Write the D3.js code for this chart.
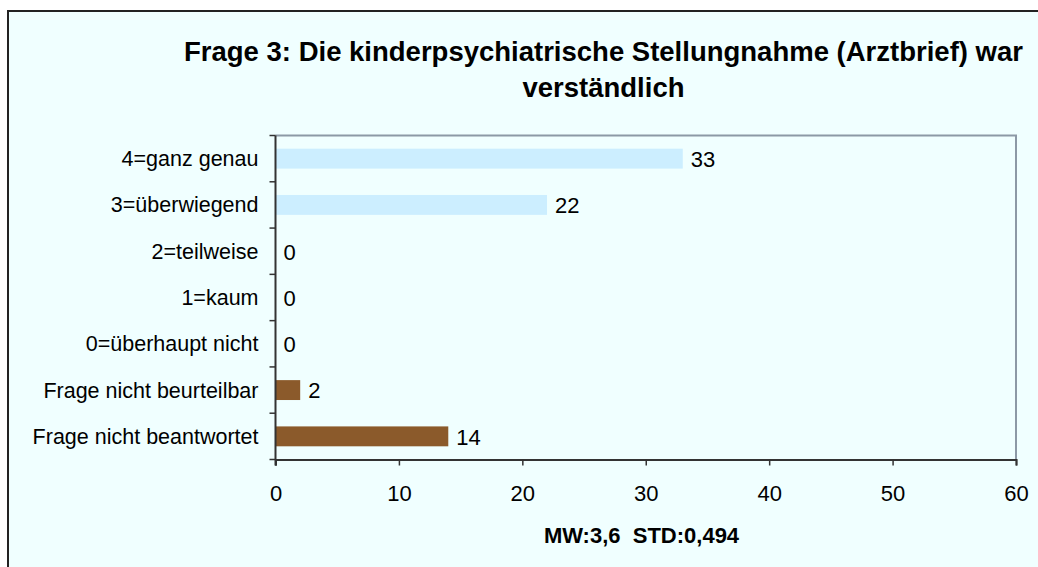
<!DOCTYPE html>
<html>
<head>
<meta charset="utf-8">
<script src="https://cdn.jsdelivr.net/npm/d3@7"></script>
<style>
  html, body { margin: 0; padding: 0; background: #fff; }
  svg { display: block; }
</style>
</head>
<body>
<div id="chart"></div>
<script>
const categories = [
  '4=ganz genau',
  '3=überwiegend',
  '2=teilweise',
  '1=kaum',
  '0=überhaupt nicht',
  'Frage nicht beurteilbar',
  'Frage nicht beantwortet'
]
const counts = [33, 22, 0, 0, 0, 2, 14]
const groups = ['scale', 'scale', 'scale', 'scale', 'scale', 'missing', 'missing']
const xTicks = [0, 10, 20, 30, 40, 50, 60]
const titleLines = [
  'Frage 3: Die kinderpsychiatrische Stellungnahme (Arztbrief) war',
  'verständlich'
]
const footer = 'MW:3,6  STD:0,494'

const width = 1038
const height = 567
const margin = { top: 135.5, right: 22, bottom: 107.5, left: 275.5 }
const font = 'Arial, "Liberation Sans", sans-serif'

const svg = d3
  .select('#chart')
  .append('svg')
  .attr('width', width)
  .attr('height', height)

// Chart frame
svg.append('rect').attr('width', width).attr('height', height).attr('fill', '#fff')
svg
  .append('rect')
  .attr('x', 8)
  .attr('y', 11)
  .attr('width', width + 10)
  .attr('height', height + 10)
  .attr('fill', '#f0ffff')
  .attr('stroke', '#222')
  .attr('stroke-width', 2)

const x = d3
  .scaleLinear()
  .domain([0, 60])
  .range([margin.left, width - margin.right])

const y = d3
  .scaleBand()
  .domain(categories)
  .range([margin.top, height - margin.bottom])
  .paddingInner(0.57)
  .paddingOuter(0.285)

const colors = { scale: '#cceeff', missing: '#8b5a2b' }

// Plot area border (top/right in grey)
svg
  .append('path')
  .attr('d', `M${x(0)},${margin.top}H${x(60)}V${height - margin.bottom}`)
  .attr('fill', 'none')
  .attr('stroke', '#8c99a6')
  .attr('stroke-width', 2)

// Bars
svg
  .append('g')
  .selectAll('rect')
  .data(categories)
  .join('rect')
  .attr('x', x(0))
  .attr('y', (d) => y(d))
  .attr('width', (d, i) => x(counts[i]) - x(0))
  .attr('height', y.bandwidth())
  .attr('fill', (d, i) => colors[groups[i]])

// Value labels
svg
  .append('g')
  .selectAll('text')
  .data(categories)
  .join('text')
  .attr('x', (d, i) => x(counts[i]) + 8)
  .attr('y', (d) => y(d) + y.bandwidth() / 2)
  .attr('dy', '0.38em')
  .attr('font-family', font)
  .attr('font-size', 22)
  .attr('fill', '#000')
  .text((d, i) => counts[i])

// Y axis: ticks sit on band boundaries
const yAxis = svg.append('g').attr('transform', `translate(${x(0)},0)`)
const step = y.step()
const bounds = d3.range(categories.length + 1).map((i) => margin.top + i * step)
yAxis
  .append('line')
  .attr('y1', margin.top)
  .attr('y2', height - margin.bottom + 6)
  .attr('stroke', '#333')
  .attr('stroke-width', 2)
yAxis
  .selectAll('line.tick')
  .data(bounds)
  .join('line')
  .attr('class', 'tick')
  .attr('x1', -6)
  .attr('x2', 0)
  .attr('y1', (d) => d)
  .attr('y2', (d) => d)
  .attr('stroke', '#333')
  .attr('stroke-width', 1.5)
yAxis
  .selectAll('text')
  .data(categories)
  .join('text')
  .attr('x', -17)
  .attr('y', (d) => y(d) + y.bandwidth() / 2)
  .attr('dy', '0.35em')
  .attr('text-anchor', 'end')
  .attr('font-family', font)
  .attr('font-size', 21.5)
  .attr('fill', '#000')
  .text((d) => d)

// X axis
const xAxis = svg
  .append('g')
  .attr('transform', `translate(0,${height - margin.bottom})`)
  .call(d3.axisBottom(x).tickValues(xTicks).tickSize(6).tickPadding(20))
xAxis.select('.domain').attr('stroke', '#333').attr('stroke-width', 2)
xAxis.selectAll('.tick line').attr('stroke', '#333').attr('stroke-width', 1.5)
xAxis
  .selectAll('.tick text')
  .attr('font-family', font)
  .attr('font-size', 22)
  .attr('fill', '#000')

// Title
svg
  .append('g')
  .selectAll('text')
  .data(titleLines)
  .join('text')
  .attr('x', 603.5)
  .attr('y', (d, i) => 61 + i * 36)
  .attr('text-anchor', 'middle')
  .attr('font-family', font)
  .attr('font-weight', 'bold')
  .attr('font-size', 27.5)
  .attr('fill', '#000')
  .text((d) => d)

// Footer statistic
svg
  .append('text')
  .attr('x', 641.5)
  .attr('y', 543)
  .attr('text-anchor', 'middle')
  .attr('font-family', font)
  .attr('font-weight', 'bold')
  .attr('font-size', 22)
  .attr('fill', '#000')
  .attr('xml:space', 'preserve')
  .style('white-space', 'pre')
  .text(footer)
</script>
</body>
</html>
